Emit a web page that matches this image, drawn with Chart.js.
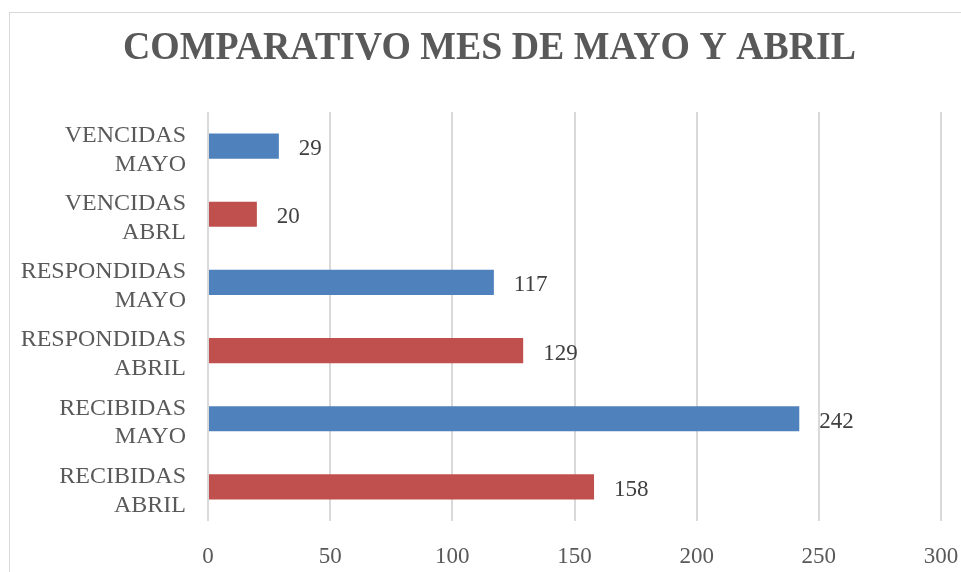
<!DOCTYPE html>
<html>
<head>
<meta charset="utf-8">
<script src="https://cdn.jsdelivr.net/npm/chart.js@4"></script>
<style>
  html, body { margin: 0; padding: 0; background: #fff; overflow: hidden; }
  #wrap { position: relative; width: 961px; height: 572px; }
  #frame { position: absolute; left: 9px; top: 12px; width: 1000px; height: 600px; border: 1px solid #d9d9d9; box-sizing: border-box; }
  canvas { position: absolute; left: 0; top: 0; }
</style>
</head>
<body>
<div id="wrap">
  <div id="frame"></div>
  <canvas id="myChart" width="961" height="572"></canvas>
</div>
<script>
// Datos
const titulo = 'COMPARATIVO MES DE MAYO Y ABRIL';
const categorias = [
    ['VENCIDAS', 'MAYO'],
    ['VENCIDAS', 'ABRL'],
    ['RESPONDIDAS', 'MAYO'],
    ['RESPONDIDAS', 'ABRIL'],
    ['RECIBIDAS', 'MAYO'],
    ['RECIBIDAS', 'ABRIL']
];
const valores = [29, 20, 117, 129, 242, 158];
const colores = ['#4F81BD', '#C0504D', '#4F81BD', '#C0504D', '#4F81BD', '#C0504D'];
const ticksX = [0, 50, 100, 150, 200, 250, 300];

const fuente = "'Liberation Serif', 'Times New Roman', serif";

// Titulo dibujado a mano (centrado en el marco del grafico)
const tituloPlugin = {
    id: 'tituloPlugin',
    afterDraw(chart) {
        const ctx = chart.ctx;
        ctx.save();
        ctx.font = 'bold 41px ' + fuente;
        ctx.fillStyle = '#595959';
        ctx.textAlign = 'center';
        ctx.textBaseline = 'alphabetic';
        ctx.fillText(titulo, 489.5, 59, 733);
        ctx.restore();
    }
};

// Etiquetas de valor al final de cada barra
const etiquetas = {
    id: 'etiquetas',
    afterDatasetsDraw(chart) {
        const ctx = chart.ctx;
        const meta = chart.getDatasetMeta(0);
        ctx.save();
        ctx.font = '23px ' + fuente;
        ctx.fillStyle = '#404040';
        ctx.textAlign = 'left';
        ctx.textBaseline = 'middle';
        meta.data.forEach((bar, i) => {
            ctx.fillText(String(valores[i]), bar.x + 20, bar.y + 3);
        });
        ctx.restore();
    }
};

const ctx = document.getElementById('myChart').getContext('2d');
new Chart(ctx, {
    type: 'bar',
    data: {
        labels: categorias,
        datasets: [{
            data: valores,
            backgroundColor: colores,
            barPercentage: 0.37,
            categoryPercentage: 1
        }]
    },
    options: {
        indexAxis: 'y',
        responsive: false,
        animation: false,
        layout: { padding: { left: 0, right: 0, top: 112, bottom: 0 } },
        scales: {
            x: {
                min: 0,
                max: 300,
                afterBuildTicks: (scale) => { scale.ticks = ticksX.map(v => ({ value: v })); },
                afterFit: (scale) => { scale.height = 51; scale.paddingRight = 20; },
                grid: { color: '#d9d9d9', lineWidth: 2, drawTicks: false },
                border: { display: false },
                ticks: { color: '#595959', font: { family: fuente, size: 23 }, padding: 22 }
            },
            y: {
                afterFit: (scale) => { scale.width = 208; },
                grid: { display: false, drawTicks: false },
                border: { display: false },
                ticks: { color: '#595959', font: { family: fuente, size: 24, lineHeight: 1.2 }, padding: 22, labelOffset: 4 }
            }
        },
        plugins: {
            legend: { display: false },
            tooltip: { enabled: false },
            title: { display: false }
        }
    },
    plugins: [etiquetas, tituloPlugin]
});
</script>
</body>
</html>
